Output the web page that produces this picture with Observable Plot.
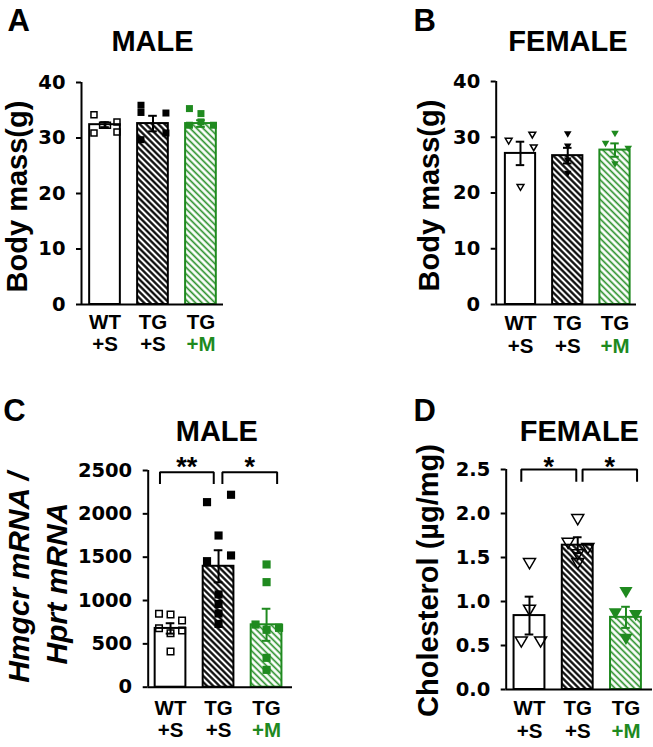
<!DOCTYPE html>
<html><head><meta charset="utf-8">
<script src="https://cdn.jsdelivr.net/npm/d3@7"></script>
<script src="https://cdn.jsdelivr.net/npm/@observablehq/plot@0.6"></script>
<style>
body{margin:0;background:#fff;}
#fig{position:relative;width:653px;height:747px;background:#fff;overflow:hidden;}
</style></head><body><div id="fig"></div>
<script>
// ---------- data ----------
const groups = ["WT", "TG", "TG"];
const treatments = ["+S", "+S", "+M"];

// A: male body mass (g)
const maleMassMean = [32.4, 32.6, 32.6];
const maleMassSem = [0.45, 1.4, 0.6];
const maleMassPts = [[34.2, 30.9, 32.3, 32.3, 32.9, 31.1], [35.9, 34.6, 34.5, 29.7, 30.9], [35.3, 34.4, 32.9, 32.3, 32.3]];
const maleMassJit = [[-0.23, -0.23, -0.05, 0.05, 0.25, 0.25], [-0.25, -0.25, 0.27, -0.25, 0.27], [-0.24, 0, 0, -0.24, 0.26]];

// B: female body mass (g)
const femaleMassMean = [27.1, 26.7, 27.7];
const femaleMassSem = [2.1, 1.4, 1.2];
const femaleMassPts = [[29.3, 30.4, 28.1, 21.0], [30.5, 28.3, 25.8, 23.4], [28.8, 30.6, 27.9, 25.1]];
const femaleMassJit = [[-0.25, 0.25, 0.28, 0], [0, 0, 0, 0], [-0.2, 0, 0.28, 0]];

// C: male Hmgcr mRNA / Hprt mRNA
const hmgcrMean = [678, 1395, 720];
const hmgcrSem = [60, 185, 185];
const hmgcrPts = [[847, 839, 770, 681, 623, 654, 412], [2135, 2220, 1750, 1454, 1520, 1070, 960, 850, 730], [1416, 1212, 723, 685, 662, 339, 200]];
const hmgcrJit = [[-0.24, 0, 0.24, -0.24, 0, 0.24, 0], [-0.24, 0.26, 0, -0.24, 0.26, 0, 0, 0, 0], [0, 0, -0.23, 0.26, 0, 0, 0]];
const hmgcrBrackets = [{x1: -0.22, x2: 0.9, y: 2480, y0: 2345, label: "**"}, {x1: 1.08, x2: 2.22, y: 2480, y0: 2345, label: "*"}];

// D: female cholesterol (µg/mg)
const cholMean = [0.84, 1.64, 0.82];
const cholSem = [0.215, 0.09, 0.12];
const cholPts = [[1.43, 0.90, 0.54, 0.54], [1.93, 1.66, 1.60, 1.53, 1.43], [1.10, 0.86, 0.84, 0.57]];
const cholJit = [[0, 0, -0.17, 0.23], [0, -0.2, 0.21, 0, 0], [0, -0.22, 0.2, 0]];
const cholBrackets = [{x1: -0.17, x2: 0.97, y: 2.5, y0: 2.36, label: "*"}, {x1: 1.1, x2: 2.23, y: 2.5, y0: 2.36, label: "*"}];

// ---------- drawing ----------
const GREEN = "#1f8a1f";
const triangleDown = {
  draw(ctx, size) {
    const r = Math.sqrt(size / Math.PI), h = 0.85 * r;
    ctx.moveTo(-r, -h); ctx.lineTo(r, -h); ctx.lineTo(0, h); ctx.closePath();
  }
};
const BOLD = "bold";

function panel(o) {
  const fills = ["white", `url(#hk-${o.id})`, `url(#hg-${o.id})`];
  const strokes = ["black", "black", GREEN];
  const yMax = o.ticks[o.ticks.length - 1];
  const marks = [];
  for (let g = 0; g < 3; g++) {
    const m = o.mean[g];
    marks.push(Plot.rect([m], {x1: () => g - 0.32, x2: () => g + 0.32, y1: () => 0, y2: d => d,
      fill: fills[g], stroke: strokes[g], strokeWidth: 2}));
  }
  for (let g = 0; g < 3; g++) {
    const m = o.mean[g], s = o.sem[g];
    marks.push(Plot.ruleX([g], {x: d => d, y1: () => m - s, y2: () => m + s, stroke: strokes[g], strokeWidth: 2}));
    marks.push(Plot.ruleY([m - s, m + s], {y: d => d, x1: () => g - 0.09, x2: () => g + 0.09, stroke: strokes[g], strokeWidth: 2}));
  }
  for (let g = 0; g < 3; g++) {
    const pts = o.pts[g].map((v, k) => ({x: g + o.jit[g][k], y: v}));
    const open = o.open[g];
    marks.push(Plot.dot(pts, {x: "x", y: "y", symbol: o.symbol, r: open ? o.rOpen : o.rFill,
      fill: open ? "none" : strokes[g], stroke: open ? "black" : "none", strokeWidth: 1.5}));
  }
  // axes
  marks.push(Plot.ruleY([0], {strokeWidth: 2, stroke: "black"}));
  marks.push(Plot.ruleX([o.xDomain[0]], {y1: () => 0, y2: () => yMax, strokeWidth: 2, stroke: "black"}));
  marks.push(Plot.axisY({ticks: o.ticks, tickFormat: o.fmt, tickSize: 5, tickPadding: 11, fontSize: 19.5,
    fontWeight: BOLD, fontFamily: "DejaVu Sans", strokeWidth: 2, label: null}));
  // x labels (two lines in one text)
  marks.push(Plot.text(groups.map((g, i) => g + "\n" + treatments[i]), {x: (d, i) => i, y: () => 0, text: d => d,
    lineAnchor: "top", lineHeight: 1.12, dy: o.xl1, fontSize: 20.5, fontWeight: BOLD, fill: "black"}));
  // brackets
  for (const b of (o.brackets || [])) {
    marks.push(Plot.line([[b.x1, b.y0], [b.x1, b.y], [b.x2, b.y], [b.x2, b.y0]], {x: d => d[0], y: d => d[1],
      stroke: "black", strokeWidth: 2, strokeLinejoin: "miter", strokeLinecap: "butt"}));
    marks.push(Plot.text([b.label], {x: () => (b.x1 + b.x2) / 2, y: () => b.y, text: d => d, lineAnchor: "bottom",
      dy: o.astDy, fontSize: 27, fontWeight: BOLD, fill: "black"}));
  }
  // title, letter, y label
  marks.push(Plot.text([o.title], {frameAnchor: "top", text: d => d, dx: o.titleDx, dy: o.titleDy, lineAnchor: "bottom",
    fontSize: 29, fontWeight: BOLD, fill: "black"}));
  marks.push(Plot.text([o.letter], {frameAnchor: "top-left", text: d => d, textAnchor: "start", lineAnchor: "bottom",
    dx: o.letterDx, dy: o.letterDy, fontSize: 31, fontWeight: BOLD, fill: "black"}));
  for (const l of o.ylabel) {
    marks.push(Plot.text([l.text], {frameAnchor: "left", text: d => d, rotate: -90, textAnchor: "middle", lineAnchor: "bottom",
      dx: l.dx, dy: l.dy, fontSize: o.ylabelSize, fontWeight: BOLD, fontStyle: o.italic ? "italic" : "normal", fill: "black"}));
  }
  const svg = Plot.plot({
    width: o.width, height: o.height,
    marginTop: o.m[0], marginRight: o.m[1], marginBottom: o.m[2], marginLeft: o.m[3],
    x: {domain: o.xDomain, axis: null},
    y: {domain: [0, yMax], axis: null},
    style: {background: "transparent", color: "black", fontFamily: "'Liberation Sans', Arial, sans-serif", overflow: "visible"},
    marks
  });
  d3.select(svg).insert("defs", ":first-child").html(
    `<pattern id="hk-${o.id}" patternUnits="userSpaceOnUse" width="4.4" height="4.4" patternTransform="rotate(-45)">` +
    `<rect width="4.4" height="4.4" fill="white"/><line x1="2.2" y1="-1" x2="2.2" y2="5.4" stroke="black" stroke-width="2.2"/></pattern>` +
    `<pattern id="hg-${o.id}" patternUnits="userSpaceOnUse" width="4.6" height="4.6" patternTransform="rotate(-45)">` +
    `<rect width="4.6" height="4.6" fill="white"/><line x1="2.3" y1="-1" x2="2.3" y2="5.6" stroke="${GREEN}" stroke-width="1.6"/></pattern>`
  );
  // colour the "+M" line of the treatment label green
  d3.select(svg).selectAll("tspan").filter(function () { return this.textContent === "+M"; }).attr("fill", GREEN);
  svg.style.position = "absolute";
  svg.style.left = o.left + "px";
  svg.style.top = o.top + "px";
  svg.style.maxWidth = "none";
  document.getElementById("fig").appendChild(svg);
}

panel({id: "a", left: 0, top: 0, width: 326, height: 370, m: [82, 103, 66, 81], xDomain: [-0.49, 2.47],
  ticks: [0, 10, 20, 30, 40], fmt: d => String(d), mean: maleMassMean, sem: maleMassSem, pts: maleMassPts, jit: maleMassJit,
  symbol: "square", rOpen: 3.4, rFill: 3.95, open: [true, false, false],
  title: "MALE", titleDx: 0, titleDy: -32, letter: "A", letterDx: -74, letterDy: -52,
  ylabel: [{text: "Body mass(g)", dx: -54.3, dy: 3}], ylabelSize: 29, italic: false, xl1: 7.7});

panel({id: "b", left: 326, top: 0, width: 327, height: 370, m: [81, 17, 66, 169.7], xDomain: [-0.514, 2.455],
  ticks: [0, 10, 20, 30, 40], fmt: d => String(d), mean: femaleMassMean, sem: femaleMassSem, pts: femaleMassPts, jit: femaleMassJit,
  symbol: triangleDown, rOpen: 3.4, rFill: 3.8, open: [true, false, false],
  title: "FEMALE", titleDx: 1.6, titleDy: -31, letter: "B", letterDx: -82.7, letterDy: -51,
  ylabel: [{text: "Body mass(g)", dx: -57.7, dy: 2.5}], ylabelSize: 29, italic: false, xl1: 9});

panel({id: "c", left: 0, top: 370, width: 326, height: 377, m: [100, 34, 60.3, 147.7], xDomain: [-0.465, 2.54],
  ticks: [0, 500, 1000, 1500, 2000, 2500], fmt: d => String(d), mean: hmgcrMean, sem: hmgcrSem, pts: hmgcrPts, jit: hmgcrJit,
  symbol: "square", rOpen: 3.7, rFill: 4.6, open: [true, false, false], brackets: hmgcrBrackets, astDy: 4,
  title: "MALE", titleDx: -3.5, titleDy: -30, letter: "C", letterDx: -145, letterDy: -50,
  ylabel: [{text: "Hmgcr mRNA /", dx: -119.7, dy: -1.3}, {text: "Hprt mRNA", dx: -81.3, dy: 4.7}], ylabelSize: 30, italic: true,
  xl1: 11});

panel({id: "d", left: 326, top: 370, width: 327, height: 377, m: [99, 1, 58, 179.7], xDomain: [-0.483, 2.55],
  ticks: [0, 0.5, 1, 1.5, 2, 2.5], fmt: d => d.toFixed(1), mean: cholMean, sem: cholSem, pts: cholPts, jit: cholJit,
  symbol: triangleDown, rOpen: 6.0, rFill: 6.6, open: [true, true, false], brackets: cholBrackets, astDy: 6,
  title: "FEMALE", titleDx: 0, titleDy: -29, letter: "D", letterDx: -92.7, letterDy: -49,
  ylabel: [{text: "Cholesterol (µg/mg)", dx: -68.4, dy: 1}], ylabelSize: 29, italic: false, xl1: 9});
</script>
</body></html>
